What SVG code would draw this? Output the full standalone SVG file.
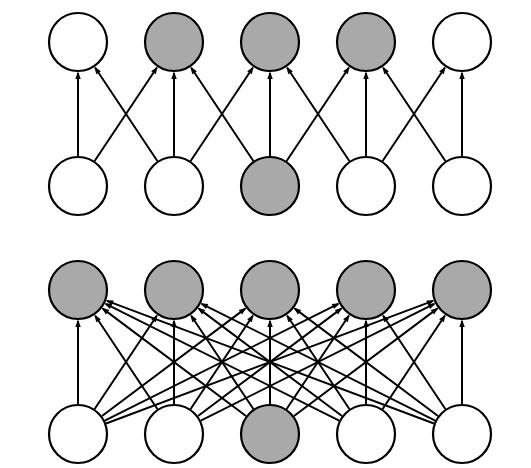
<svg xmlns="http://www.w3.org/2000/svg" width="531" height="468" viewBox="0 0 531 468">
<style>
.n{stroke:#000;stroke-width:2.2}
.w{fill:#fff}
.g{fill:#a9a9a9}
#edges line{stroke:#000;stroke-width:2;marker-end:url(#ah)}
</style>
<defs>
<marker id="ah" markerUnits="userSpaceOnUse" markerWidth="8" markerHeight="6" refX="6" refY="2.75" orient="auto" overflow="visible">
<path d="M0,0 L7.5,2.75 L0,5.5 z" fill="#000"/>
</marker>
</defs>
<rect width="531" height="468" fill="#fff"/>
<g id="edges">
<!-- top half -->
<line x1="78" y1="156" x2="78" y2="73"/>
<line x1="157.36" y1="161.04" x2="95.2" y2="67.79"/>
<line x1="94.64" y1="161.04" x2="156.8" y2="67.79"/>
<line x1="174" y1="156" x2="174" y2="73"/>
<line x1="253.36" y1="161.04" x2="191.2" y2="67.79"/>
<line x1="190.64" y1="161.04" x2="252.8" y2="67.79"/>
<line x1="270" y1="156" x2="270" y2="73"/>
<line x1="349.36" y1="161.04" x2="287.2" y2="67.79"/>
<line x1="286.64" y1="161.04" x2="348.8" y2="67.79"/>
<line x1="366" y1="156" x2="366" y2="73"/>
<line x1="445.36" y1="161.04" x2="383.2" y2="67.79"/>
<line x1="382.64" y1="161.04" x2="444.8" y2="67.79"/>
<line x1="462" y1="156" x2="462" y2="73"/>
<!-- bottom half -->
<line x1="78" y1="404" x2="78" y2="321"/>
<line x1="157.36" y1="409.04" x2="95.2" y2="315.79"/>
<line x1="246" y1="416" x2="102.8" y2="308.6"/>
<line x1="339.17" y1="420.58" x2="105.73" y2="303.86"/>
<line x1="433.91" y1="423.47" x2="107.03" y2="300.88"/>

<line x1="94.64" y1="409.04" x2="156.8" y2="315.79"/>
<line x1="174" y1="404" x2="174" y2="321"/>
<line x1="253.36" y1="409.04" x2="191.2" y2="315.79"/>
<line x1="342" y1="416" x2="198.8" y2="308.6"/>
<line x1="435.17" y1="420.58" x2="201.73" y2="303.86"/>

<line x1="102" y1="416" x2="245.2" y2="308.6"/>
<line x1="190.64" y1="409.04" x2="252.8" y2="315.79"/>
<line x1="270" y1="404" x2="270" y2="321"/>
<line x1="349.36" y1="409.04" x2="287.2" y2="315.79"/>
<line x1="438" y1="416" x2="294.8" y2="308.6"/>

<line x1="104.83" y1="420.58" x2="338.27" y2="303.86"/>
<line x1="198" y1="416" x2="341.2" y2="308.6"/>
<line x1="286.64" y1="409.04" x2="348.8" y2="315.79"/>
<line x1="366" y1="404" x2="366" y2="321"/>
<line x1="445.36" y1="409.04" x2="383.2" y2="315.79"/>

<line x1="106.09" y1="423.47" x2="432.97" y2="300.88"/>
<line x1="200.83" y1="420.58" x2="434.27" y2="303.86"/>
<line x1="294" y1="416" x2="437.2" y2="308.6"/>
<line x1="382.64" y1="409.04" x2="444.8" y2="315.79"/>
<line x1="462" y1="404" x2="462" y2="321"/>
</g>
<g id="a1"><circle class="n w" cx="78" cy="42" r="29"/></g>
<g id="a2"><circle class="n g" cx="174" cy="42" r="29"/></g>
<g id="a3"><circle class="n g" cx="270" cy="42" r="29"/></g>
<g id="a4"><circle class="n g" cx="366" cy="42" r="29"/></g>
<g id="a5"><circle class="n w" cx="462" cy="42" r="29"/></g>
<g id="b1"><circle class="n w" cx="78" cy="186" r="29"/></g>
<g id="b2"><circle class="n w" cx="174" cy="186" r="29"/></g>
<g id="b3"><circle class="n g" cx="270" cy="186" r="29"/></g>
<g id="b4"><circle class="n w" cx="366" cy="186" r="29"/></g>
<g id="b5"><circle class="n w" cx="462" cy="186" r="29"/></g>
<g id="c1"><circle class="n g" cx="78" cy="290" r="29"/></g>
<g id="c2"><circle class="n g" cx="174" cy="290" r="29"/></g>
<g id="c3"><circle class="n g" cx="270" cy="290" r="29"/></g>
<g id="c4"><circle class="n g" cx="366" cy="290" r="29"/></g>
<g id="c5"><circle class="n g" cx="462" cy="290" r="29"/></g>
<g id="d1"><circle class="n w" cx="78" cy="434" r="29"/></g>
<g id="d2"><circle class="n w" cx="174" cy="434" r="29"/></g>
<g id="d3"><circle class="n g" cx="270" cy="434" r="29"/></g>
<g id="d4"><circle class="n w" cx="366" cy="434" r="29"/></g>
<g id="d5"><circle class="n w" cx="462" cy="434" r="29"/></g>
</svg>
